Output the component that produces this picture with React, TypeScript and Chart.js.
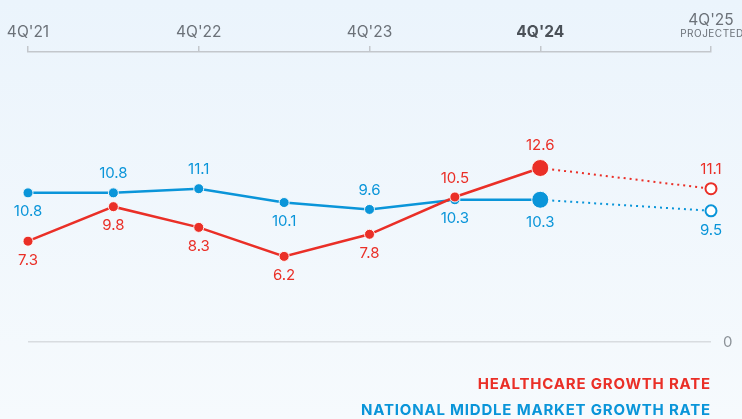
import React, { useEffect, useRef } from "react";
import { Chart, registerables } from "chart.js";

Chart.register(...registerables);

const categories = ["4Q'21", "2Q'22", "4Q'22", "2Q'23", "4Q'23", "2Q'24", "4Q'24", "2Q'25", "4Q'25"];
const axisLabels = ["4Q'21", "", "4Q'22", "", "4Q'23", "", "4Q'24", "", "4Q'25"];
const projectedNote = "PROJECTED";
const healthcare = [7.3, 9.8, 8.3, 6.2, 7.8, 10.5, 12.6, null, 11.1];
const national = [10.8, 10.8, 11.1, 10.1, 9.6, 10.3, 10.3, null, 9.5];
const healthcareLabelPos = ["below", "below", "below", "below", "below", "above", "above", null, "above"];
const nationalLabelPos = ["below", "above", "above", "below", "above", "below", "below", null, "below"];
const yTicks = [0];
const currentIndex = 6;
const projectedIndex = 8;

const RED = "#ea2f27";
const BLUE = "#0a95d9";
const FONT = "Inter, 'Noto Sans', sans-serif";

const labelPositions = [healthcareLabelPos, nationalLabelPos];

const radiusFor = (i: number) => (i === currentIndex ? 8.5 : i === projectedIndex ? 5.5 : 5);

const bgPlugin = {
  id: "bg",
  beforeDraw(chart: any) {
    const { ctx, width, height } = chart;
    ctx.save();
    const g = ctx.createLinearGradient(0, 0, 0, height);
    g.addColorStop(0, "#ebf4fc");
    g.addColorStop(1, "#f6fafd");
    ctx.fillStyle = g;
    ctx.fillRect(0, 0, width, height);
    ctx.restore();
  },
};

const annotPlugin = {
  id: "annot",
  afterDatasetsDraw(chart: any) {
    const { ctx } = chart;
    const xs = chart.scales.x;
    ctx.save();
    ctx.textAlign = "center";
    ctx.textBaseline = "alphabetic";
    // top axis labels
    axisLabels.forEach((lab, i) => {
      if (!lab) return;
      const x = xs.getPixelForValue(i);
      if (i === projectedIndex) {
        ctx.font = `400 15.5px ${FONT}`;
        ctx.fillStyle = "#6b7178";
        ctx.fillText(lab, x, 25);
        ctx.font = `400 10px ${FONT}`;
        (ctx as any).letterSpacing = "0.5px";
        ctx.fillText(projectedNote, x + 1, 37);
        (ctx as any).letterSpacing = "0px";
      } else if (i === currentIndex) {
        ctx.font = `700 15.5px ${FONT}`;
        ctx.fillStyle = "#4b5158";
        ctx.fillText(lab, x, 37);
      } else {
        ctx.font = `400 15.5px ${FONT}`;
        ctx.fillStyle = "#6b7178";
        ctx.fillText(lab, x, 37);
      }
    });
    // value labels
    ctx.textBaseline = "middle";
    ctx.font = `400 15px ${FONT}`;
    chart.data.datasets.forEach((ds: any, di: number) => {
      const meta = chart.getDatasetMeta(di);
      ctx.fillStyle = ds.borderColor;
      meta.data.forEach((pt: any, i: number) => {
        const v = ds.data[i];
        if (v == null) return;
        const pos = labelPositions[di][i];
        const off = radiusFor(i) + 14;
        const y = pos === "above" ? pt.y - off : pt.y + off;
        ctx.fillText(String(v), pt.x, y);
      });
    });
    // legend
    ctx.textAlign = "right";
    ctx.textBaseline = "alphabetic";
    ctx.font = `700 15px ${FONT}`;
    (ctx as any).letterSpacing = "0.8px";
    const right = xs.right - 1;
    chart.data.datasets.forEach((ds: any, di: number) => {
      ctx.fillStyle = ds.borderColor;
      ctx.fillText(ds.label, right + 1, 389 + di * 26);
    });
    ctx.restore();
  },
};

function makeDataset(label: string, data: (number | null)[], color: string) {
  return {
    label,
    data,
    borderColor: color,
    backgroundColor: color,
    borderWidth: 2.5,
    spanGaps: true,
    tension: 0,
    pointRadius: (c: any) => radiusFor(c.dataIndex),
    pointHoverRadius: (c: any) => radiusFor(c.dataIndex),
    pointBackgroundColor: (c: any) => (c.dataIndex === projectedIndex ? "#ffffff" : color),
    pointBorderColor: (c: any) => (c.dataIndex === projectedIndex ? color : "rgba(255,255,255,0.9)"),
    pointBorderWidth: (c: any) => (c.dataIndex === projectedIndex ? 2 : 1),
    segment: {
      borderDash: (c: any) => (c.p0DataIndex >= currentIndex ? [2, 4] : undefined),
      borderWidth: (c: any) => (c.p0DataIndex >= currentIndex ? 2 : 2.5),
    },
  };
}

export default function App() {
  const ref = useRef<HTMLCanvasElement>(null);
  useEffect(() => {
    if (!ref.current) return;
    const chart = new Chart(ref.current, {
      type: "line",
      data: {
        labels: categories,
        datasets: [
          makeDataset("HEALTHCARE GROWTH RATE", healthcare, RED),
          makeDataset("NATIONAL MIDDLE MARKET GROWTH RATE", national, BLUE),
        ],
      },
      options: {
        responsive: false,
        animation: false,
        layout: { padding: { top: 46, left: 28, right: 10, bottom: 77 } },
        plugins: { legend: { display: false }, tooltip: { enabled: false } },
        scales: {
          x: {
            type: "category",
            position: "top",
            offset: false,
            ticks: { display: false },
            grid: {
              drawOnChartArea: false,
              drawTicks: true,
              tickLength: 6,
              lineWidth: 1.5,
              color: (c: any) => (axisLabels[c.index] ? "#c3c7cc" : "rgba(0,0,0,0)"),
            },
            border: { display: true, color: "#c3c7cc", width: 1.5 },
          },
          y: {
            position: "right",
            min: 0,
            max: 21,
            afterBuildTicks: (axis: any) => {
              axis.ticks = yTicks.map((v) => ({ value: v }));
            },
            afterFit: (axis: any) => {
              axis.width = 21;
            },
            ticks: { color: "#8c9298", font: { family: FONT, size: 15 }, padding: 12 },
            grid: { color: "#d8dce0", lineWidth: 1.5, drawTicks: false },
            border: { display: false },
          },
        },
      },
      plugins: [bgPlugin, annotPlugin],
    });
    return () => chart.destroy();
  }, []);
  return (
    <div style={{ position: "absolute", left: 0, top: 0, width: 742, height: 419 }}>
      <canvas ref={ref} width={742} height={419} style={{ display: "block" }} />
    </div>
  );
}
